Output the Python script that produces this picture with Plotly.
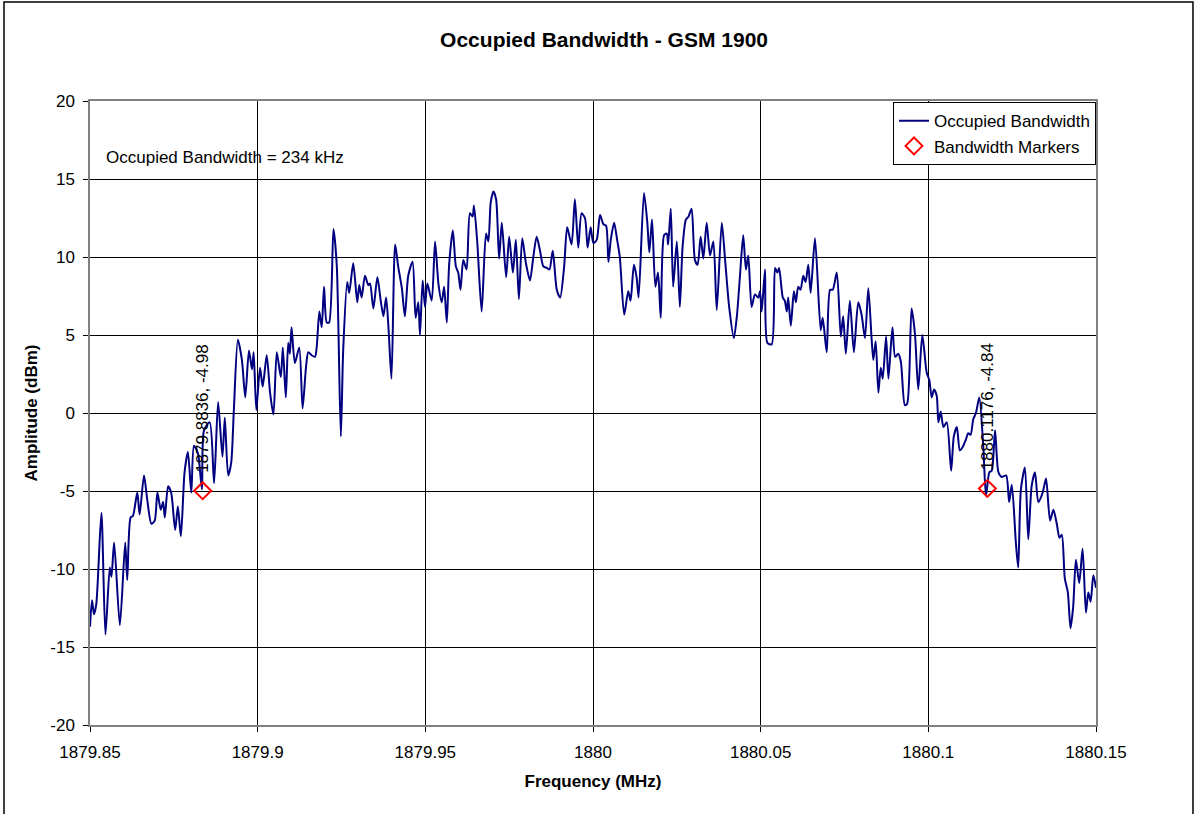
import plotly.graph_objects as go

# Trace values
freq_mhz = [
    1879.8500, 1879.8506, 1879.8512, 1879.8519, 1879.8534, 1879.8546, 1879.8559, 1879.8564, 1879.8572, 1879.8589,
    1879.8605, 1879.8611, 1879.8621, 1879.8628, 1879.8641, 1879.8648, 1879.8661, 1879.8671, 1879.8683, 1879.8693,
    1879.8701, 1879.8711, 1879.8718, 1879.8723, 1879.8733, 1879.8742, 1879.8754, 1879.8762, 1879.8771, 1879.8782,
    1879.8792, 1879.8802, 1879.8810, 1879.8822, 1879.8828, 1879.8834, 1879.8840, 1879.8857, 1879.8870, 1879.8882,
    1879.8895, 1879.8902, 1879.8912, 1879.8921, 1879.8929, 1879.8941, 1879.8953, 1879.8963, 1879.8974, 1879.8983,
    1879.8988, 1879.8996, 1879.9007, 1879.9015, 1879.9027, 1879.9037, 1879.9047, 1879.9057, 1879.9069, 1879.9075,
    1879.9084, 1879.9091, 1879.9096, 1879.9101, 1879.9111, 1879.9124, 1879.9134, 1879.9144, 1879.9151, 1879.9161,
    1879.9171, 1879.9176, 1879.9184, 1879.9191, 1879.9198, 1879.9206, 1879.9213, 1879.9226, 1879.9236, 1879.9248,
    1879.9255, 1879.9267, 1879.9273, 1879.9285, 1879.9297, 1879.9303, 1879.9310, 1879.9320, 1879.9330, 1879.9335,
    1879.9345, 1879.9357, 1879.9367, 1879.9375, 1879.9383, 1879.9390, 1879.9399, 1879.9410, 1879.9419, 1879.9430,
    1879.9439, 1879.9449, 1879.9462, 1879.9471, 1879.9479, 1879.9484, 1879.9492, 1879.9499, 1879.9506, 1879.9519,
    1879.9529, 1879.9539, 1879.9549, 1879.9556, 1879.9564, 1879.9571, 1879.9582, 1879.9591, 1879.9598, 1879.9605,
    1879.9613, 1879.9623, 1879.9633, 1879.9641, 1879.9645, 1879.9655, 1879.9668, 1879.9681, 1879.9688, 1879.9695,
    1879.9703, 1879.9711, 1879.9720, 1879.9728, 1879.9741, 1879.9750, 1879.9761, 1879.9770, 1879.9779, 1879.9789,
    1879.9800, 1879.9812, 1879.9822, 1879.9832, 1879.9842, 1879.9852, 1879.9862, 1879.9870, 1879.9880, 1879.9892,
    1879.9902, 1879.9914, 1879.9923, 1879.9936, 1879.9946, 1879.9956, 1879.9966, 1879.9976, 1879.9984, 1879.9993,
    1880.0001, 1880.0011, 1880.0021, 1880.0031, 1880.0039, 1880.0046, 1880.0053, 1880.0063, 1880.0072, 1880.0080,
    1880.0093, 1880.0105, 1880.0112, 1880.0122, 1880.0130, 1880.0136, 1880.0152, 1880.0162, 1880.0168, 1880.0176,
    1880.0186, 1880.0194, 1880.0202, 1880.0212, 1880.0220, 1880.0224, 1880.0232, 1880.0239, 1880.0250, 1880.0259,
    1880.0267, 1880.0277, 1880.0285, 1880.0294, 1880.0304, 1880.0312, 1880.0321, 1880.0329, 1880.0339, 1880.0349,
    1880.0359, 1880.0369, 1880.0384, 1880.0394, 1880.0406, 1880.0420, 1880.0429, 1880.0438, 1880.0448, 1880.0456,
    1880.0463, 1880.0473, 1880.0483, 1880.0493, 1880.0498, 1880.0503, 1880.0513, 1880.0520, 1880.0533, 1880.0543,
    1880.0550, 1880.0555, 1880.0566, 1880.0572, 1880.0578, 1880.0582, 1880.0590, 1880.0599, 1880.0605, 1880.0612,
    1880.0619, 1880.0627, 1880.0634, 1880.0642, 1880.0649, 1880.0662, 1880.0679, 1880.0685, 1880.0697, 1880.0707,
    1880.0715, 1880.0727, 1880.0739, 1880.0746, 1880.0754, 1880.0766, 1880.0778, 1880.0791, 1880.0801, 1880.0811,
    1880.0821, 1880.0831, 1880.0836, 1880.0843, 1880.0851, 1880.0858, 1880.0864, 1880.0874, 1880.0881, 1880.0893,
    1880.0901, 1880.0910, 1880.0918, 1880.0930, 1880.0937, 1880.0950, 1880.0960, 1880.0970, 1880.0982, 1880.0995,
    1880.1003, 1880.1010, 1880.1017, 1880.1025, 1880.1030, 1880.1037, 1880.1045, 1880.1055, 1880.1068, 1880.1076,
    1880.1085, 1880.1094, 1880.1102, 1880.1112, 1880.1119, 1880.1126, 1880.1134, 1880.1142, 1880.1152, 1880.1164,
    1880.1172, 1880.1182, 1880.1189, 1880.1199, 1880.1209, 1880.1219, 1880.1232, 1880.1241, 1880.1249, 1880.1261,
    1880.1268, 1880.1276, 1880.1288, 1880.1298, 1880.1308, 1880.1318, 1880.1328, 1880.1341, 1880.1351, 1880.1363,
    1880.1373, 1880.1383, 1880.1391, 1880.1398, 1880.1407, 1880.1416, 1880.1424, 1880.1432, 1880.1440, 1880.1450,
    1880.1460, 1880.1470, 1880.1477, 1880.1484, 1880.1492, 1880.1500,
]

amplitude_dbm = [
    -13.7, -12.0, -12.9, -12.2, -6.4, -14.2, -9.9, -10.5, -8.3, -13.6,
    -8.3, -10.7, -6.7, -6.6, -5.1, -6.5, -4.0, -5.6, -7.1, -6.9,
    -5.1, -6.2, -5.7, -6.7, -4.7, -5.1, -7.5, -6.0, -7.9, -3.8,
    -2.5, -5.1, -2.1, -2.6, -3.7, -4.9, -1.1, -0.6, -4.5, 0.7,
    -2.8, -0.3, -4.0, -3.2, 0.2, 4.7, 3.4, 1.0, 4.0, 2.8,
    3.9, 0.2, 2.9, 1.7, 3.7, 1.3, -0.1, 3.9, 2.3, 4.2,
    1.0, 4.5, 3.8, 5.5, 3.2, 4.2, 0.3, 2.9, 3.9, 3.7,
    3.6, 4.2, 6.5, 5.5, 8.1, 5.8, 5.8, 11.8, 9.4, -1.5,
    4.0, 8.4, 7.7, 9.6, 7.1, 8.2, 7.4, 8.8, 8.2, 8.3,
    6.7, 8.7, 7.2, 6.2, 7.4, 5.5, 2.2, 10.8, 9.4, 8.0,
    6.2, 8.8, 9.7, 6.1, 7.1, 5.0, 8.5, 6.8, 8.3, 7.2,
    11.0, 8.3, 7.1, 8.1, 5.8, 9.5, 11.7, 9.4, 9.0, 7.9,
    9.8, 9.2, 12.8, 12.6, 13.3, 10.9, 6.5, 11.5, 11.0, 13.5,
    14.2, 13.7, 9.9, 12.2, 8.7, 11.3, 9.0, 11.1, 7.3, 11.2,
    9.6, 8.5, 10.0, 11.3, 10.4, 9.4, 9.3, 9.2, 10.4, 7.9,
    7.4, 9.4, 11.9, 10.8, 13.7, 10.6, 12.8, 12.5, 10.6, 11.9,
    10.9, 11.1, 12.7, 12.1, 12.0, 9.7, 11.1, 12.2, 11.1, 10.0,
    6.3, 7.8, 7.2, 9.5, 8.7, 7.4, 14.1, 12.2, 10.3, 12.4,
    8.1, 9.0, 6.1, 11.4, 11.5, 10.8, 13.1, 8.1, 11.0, 6.8,
    10.6, 12.4, 12.6, 13.1, 9.8, 9.5, 11.3, 9.9, 12.2, 10.1,
    11.0, 6.6, 12.2, 9.8, 6.8, 4.8, 6.2, 8.7, 11.4, 9.2,
    10.1, 6.8, 7.6, 7.4, 7.8, 6.5, 9.2, 4.5, 4.4, 9.3,
    9.0, 9.3, 7.4, 7.2, 6.5, 7.4, 5.6, 7.8, 7.1, 8.1,
    7.9, 8.8, 8.4, 9.5, 7.7, 11.2, 5.3, 6.1, 3.9, 7.9,
    7.9, 9.0, 4.9, 6.2, 3.8, 7.2, 3.9, 7.1, 6.3, 4.8,
    8.0, 4.7, 3.4, 4.6, 1.3, 2.9, 2.2, 4.9, 2.2, 5.5,
    3.6, 3.8, 3.3, 0.5, 0.6, 6.7, 5.1, 1.5, 5.0, 2.6,
    2.1, 1.0, 1.5, 1.1, -0.6, 0.1, -0.9, -0.6, -3.7, -1.5,
    -0.9, -2.4, -2.2, -1.7, -1.3, -1.4, -0.4, 0.0, 1.0, -2.2,
    -5.3, -3.8, -3.7, -1.1, -3.8, -4.1, -4.0, -5.7, -4.6, -8.3,
    -9.9, -4.9, -3.5, -8.1, -4.7, -3.8, -5.7, -5.1, -4.2, -6.9,
    -6.2, -7.1, -8.0, -7.8, -10.6, -11.5, -13.8, -12.4, -9.4, -10.9,
    -8.7, -12.8, -11.5, -12.1, -10.4, -11.2,
]

marker_freq = [1879.8836, 1880.1176]
marker_amp = [-4.98, -4.84]
marker_labels = ["1879.8836, -4.98", "1880.1176, -4.84"]

x_tickvals = [1879.85, 1879.9, 1879.95, 1880.0, 1880.05, 1880.1, 1880.15]
x_ticktext = ["1879.85", "1879.9", "1879.95", "1880", "1880.05", "1880.1", "1880.15"]
y_tickvals = [-20, -15, -10, -5, 0, 5, 10, 15, 20]
y_ticktext = ["-20", "-15", "-10", "-5", "0", "5", "10", "15", "20"]

FONT = "Arial, Liberation Sans, sans-serif"

fig = go.Figure()
fig.add_trace(go.Scatter(
    x=freq_mhz, y=amplitude_dbm, mode="lines", name="Occupied Bandwidth",
    line=dict(color="#000080", width=2, shape="spline", smoothing=0.7),
))
fig.add_trace(go.Scatter(
    x=marker_freq, y=marker_amp, mode="markers", name="Bandwidth Markers",
    marker=dict(symbol="diamond-open", size=13, color="#FF0000", line=dict(width=2, color="#FF0000")),
))

for fx, fy, txt in zip(marker_freq, marker_amp, marker_labels):
    fig.add_annotation(
        x=fx, y=fy, xref="x", yref="y", text=txt, showarrow=False,
        textangle=-90, xanchor="center", yanchor="bottom", yshift=16,
        font=dict(family=FONT, size=17, color="#000000"),
    )

fig.add_annotation(
    x=0.0139, y=0.9087, xref="paper", yref="paper",
    text="Occupied Bandwidth = 234 kHz", showarrow=False,
    xanchor="left", yanchor="middle",
    font=dict(family=FONT, size=17, color="#000000"),
)

# Outer chart frame
fig.add_shape(
    type="rect", xref="paper", yref="paper",
    x0=-0.0855, x1=1.0964, y0=-0.16, y1=1.1587,
    line=dict(color="#000000", width=1.5), fillcolor="rgba(0,0,0,0)", layer="below",
)

fig.update_layout(
    width=1196, height=814,
    margin=dict(l=90, r=100, t=101, b=89),
    paper_bgcolor="white", plot_bgcolor="white",
    font=dict(family=FONT, size=17, color="#000000"),
    title=dict(
        text="<b>Occupied Bandwidth - GSM 1900</b>",
        x=0.511, xref="paper", xanchor="center",
        y=1 - 40 / 814, yref="container", yanchor="middle",
        font=dict(family=FONT, size=21, color="#000000"),
    ),
    legend=dict(
        x=1.0, y=0.998, xanchor="right", yanchor="top",
        bgcolor="white", bordercolor="#000000", borderwidth=1,
        font=dict(family=FONT, size=17, color="#000000"),
        tracegroupgap=0, itemwidth=30,
    ),
    showlegend=True,
)

fig.update_xaxes(
    range=[1879.85, 1880.15], tickmode="array", tickvals=x_tickvals, ticktext=x_ticktext,
    showgrid=True, gridcolor="#000000", gridwidth=1,
    showline=True, linecolor="#808080", linewidth=1.5, mirror=True,
    ticks="outside", ticklen=5, tickcolor="#000000", ticklabelstandoff=6,
    zeroline=False,
    tickfont=dict(family=FONT, size=17),
    title=dict(text="<b>Frequency (MHz)</b>", standoff=14, font=dict(family=FONT, size=17)),
)
fig.update_yaxes(
    range=[-20, 20], tickmode="array", tickvals=y_tickvals, ticktext=y_ticktext,
    showgrid=True, gridcolor="#000000", gridwidth=1,
    showline=True, linecolor="#808080", linewidth=1.5, mirror=True,
    ticks="outside", ticklen=5, tickcolor="#000000", ticklabelstandoff=5,
    zeroline=False,
    tickfont=dict(family=FONT, size=17),
    title=dict(text="<b>Amplitude (dBm)</b>", standoff=8, font=dict(family=FONT, size=17)),
)

fig.write_html("out.html", config={"displayModeBar": False},
               post_script="document.body.style.margin='0';")
